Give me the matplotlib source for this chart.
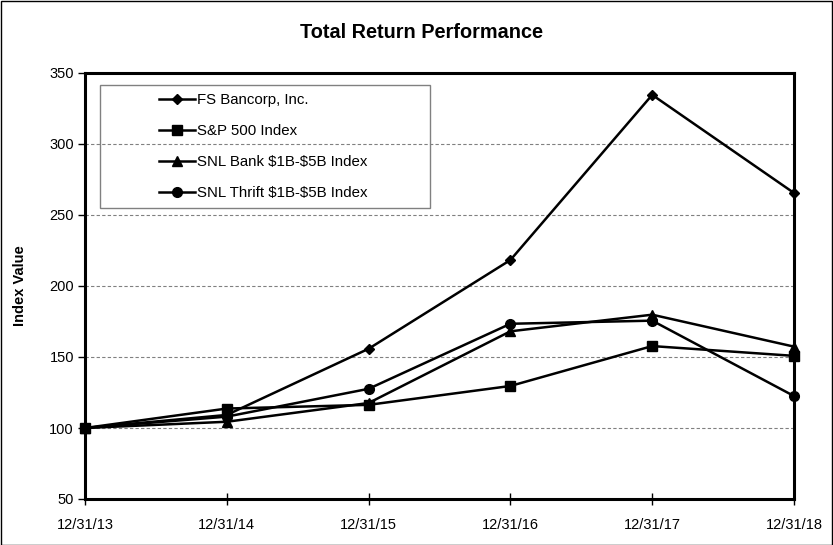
import matplotlib
matplotlib.use("Agg")
import matplotlib.pyplot as plt
from matplotlib.patches import Rectangle

plt.rcParams['font.family'] = ['Liberation Sans', 'DejaVu Sans']

dates = ["12/31/13", "12/31/14", "12/31/15", "12/31/16", "12/31/17", "12/31/18"]
fs_bancorp = [100.0, 109.2, 155.8, 218.3, 334.6, 265.5]
sp500 = [100.0, 113.7, 116.3, 129.6, 157.7, 150.8]
snl_bank = [100.0, 104.4, 117.6, 168.1, 179.8, 157.3]
snl_thrift = [100.0, 108.0, 127.6, 173.4, 175.6, 122.5]

series = [
    ("FS Bancorp, Inc.", fs_bancorp, "D", 5.5),
    ("S&P 500 Index", sp500, "s", 7),
    ("SNL Bank \\$1B-\\$5B Index", snl_bank, "^", 7.5),
    ("SNL Thrift \\$1B-\\$5B Index", snl_thrift, "o", 7),
]

W, H = 833, 545
fig = plt.figure(figsize=(W / 100, H / 100), dpi=100)
ax = fig.add_axes([85 / W, 1 - 499 / H, 709 / W, 426 / H])

x = list(range(len(dates)))
for label, vals, mk, ms in series:
    ax.plot(x, vals, color="black", lw=1.8, marker=mk, markersize=ms,
            label=label, clip_on=False, zorder=3)

ax.set_xlim(0, len(dates) - 1)
ax.set_ylim(50, 350)
ax.set_yticks(range(50, 351, 50))
ax.set_xticks(x)
ax.set_xticklabels(dates)
ax.yaxis.grid(True, linestyle=(0, (3, 2)), color="#808080", lw=0.8)
ax.set_axisbelow(True)
ax.tick_params(axis="both", labelsize=10.5, colors="black", width=1)
ax.tick_params(axis="x", direction="inout", length=9, pad=9)
ax.tick_params(axis="y", direction="out", length=5, pad=3)
for s in ax.spines.values():
    s.set_linewidth(2.2)

ax.set_ylabel("Index Value", fontsize=10.5, fontweight="bold", labelpad=16)
fig.text(0.506, 1 - 33 / H, "Total Return Performance", ha="center", va="center",
         fontsize=14.3, fontweight="bold")

# legend box drawn separately, entries placed inside it
fig.patches.append(Rectangle((100 / W, 1 - 208 / H), 330 / W, 123 / H,
                             transform=fig.transFigure, fill=False,
                             edgecolor="#808080", lw=1.0, zorder=5))
leg = ax.legend(loc="upper left", bbox_to_anchor=(159 / W, 1 - 93 / H),
                bbox_transform=fig.transFigure, frameon=False, fontsize=10.8,
                handlelength=2.4, handletextpad=0.15, labelspacing=1.13,
                borderpad=0, borderaxespad=0)

fig.patches.append(Rectangle((0.5 / W, 0.5 / H), 1 - 1.5 / W, 1 - 1.5 / H,
                             transform=fig.transFigure, fill=False, edgecolor="black", lw=1))

fig.savefig("out.png", dpi=100)
